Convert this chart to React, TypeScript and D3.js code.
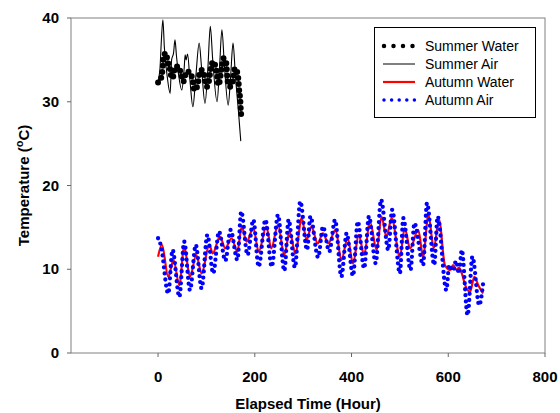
import React, { useEffect, useRef } from 'react';
import * as d3 from 'd3';

// summer run (hours, degC)
const summerWaterHours = [0, 3, 8, 10, 11, 16, 20, 25, 28, 32, 35, 42, 48, 52, 59, 66, 72, 75, 82, 85, 90, 95, 101, 105, 109, 114, 121, 125, 132, 135, 141, 144, 149, 155, 159, 165, 168, 170, 171, 173];
const summerWaterTemps = [32.3, 32.4, 33.3, 34.3, 35.3, 35.8, 34.8, 33.8, 32.8, 33.1, 34.2, 34.2, 33.2, 32.4, 33.6, 33.5, 32.4, 31.4, 32.0, 33.2, 33.8, 33.3, 31.8, 32.4, 34.0, 34.8, 33.6, 32.0, 34.2, 35.2, 34.6, 32.4, 31.8, 32.6, 34.0, 33.2, 31.2, 30.2, 29.1, 28.0];

const summerAirHours = [0, 4, 7, 10, 13, 19, 25, 28, 32, 35, 38, 43, 49, 54, 56, 58, 61, 66, 72, 78, 85, 90, 97, 103, 108, 113, 122, 127, 132, 137, 145, 150, 155, 160, 166, 171];
const summerAirTemps = [32.5, 34.0, 37.5, 39.8, 36.5, 33.0, 31.0, 35.0, 35.8, 37.4, 35.5, 33.0, 31.4, 34.0, 35.6, 35.0, 35.7, 32.5, 29.4, 33.0, 37.0, 34.0, 29.8, 34.0, 39.0, 35.0, 30.0, 34.0, 38.6, 34.5, 29.6, 33.0, 37.0, 33.0, 29.0, 25.3];

// autumn run
const autumnWaterHours = [0, 8, 21, 32, 44, 54, 66, 79, 90, 106, 113, 128, 139, 152, 164, 173, 183, 197, 208, 224, 234, 248, 261, 272, 284, 297, 307, 317, 330, 341, 352, 367, 379, 392, 403, 415, 426, 438, 452, 462, 472, 483, 500, 510, 521, 538, 548, 559, 570, 581, 593, 604, 610, 617, 622, 628, 635, 645, 654, 662, 672];
const autumnWaterTemps = [11.5, 12.9, 9.1, 11.1, 8.1, 12.7, 9.1, 11.7, 9.5, 12.9, 11.9, 13.9, 12.5, 13.7, 12.1, 15.1, 13.3, 14.9, 12.1, 15.1, 12.5, 15.3, 11.7, 14.5, 11.9, 16.1, 13.5, 15.1, 13.1, 14.3, 13.1, 14.7, 11.1, 13.7, 10.7, 14.1, 11.7, 15.7, 12.3, 16.3, 13.9, 16.1, 11.5, 14.9, 12.5, 14.7, 11.5, 16.5, 12.5, 15.9, 10.5, 9.9, 10.5, 9.9, 10.2, 9.5, 8.1, 7.3, 9.1, 8.1, 7.1];

const autumnAirHours = [0, 6, 21, 30, 44, 54, 66, 78, 90, 102, 114, 126, 139, 150, 164, 172, 185, 197, 208, 222, 235, 248, 261, 270, 283, 294, 308, 315, 331, 341, 354, 366, 379, 390, 403, 413, 426, 436, 450, 461, 476, 484, 500, 507, 522, 530, 548, 556, 571, 578, 596, 602, 610, 616, 622, 628, 640, 650, 664, 672];
const autumnAirTemps = [13.7, 12.8, 7.1, 12.3, 6.7, 13.3, 7.5, 12.9, 7.7, 14.1, 9.5, 14.5, 11.0, 14.7, 11.1, 16.9, 11.7, 15.9, 10.3, 15.9, 10.3, 16.5, 9.8, 15.9, 10.2, 18.1, 12.3, 16.3, 11.4, 15.1, 12.1, 15.9, 9.1, 14.3, 9.2, 15.7, 10.1, 16.3, 10.7, 18.3, 12.3, 17.1, 9.5, 16.1, 9.9, 15.5, 10.5, 17.9, 10.5, 16.3, 7.5, 10.5, 9.8, 11.0, 9.5, 12.3, 4.5, 11.5, 5.7, 8.3];

const xTicks = [0, 200, 400, 600, 800];
const yTicks = [0, 10, 20, 30, 40];
const legendLabels = ['Summer Water', 'Summer Air', 'Autumn Water', 'Autumn Air'];

const FONT = 'Arial, "Liberation Sans", sans-serif';

export default function App() {
    const svgRef = useRef<SVGSVGElement>(null);

    useEffect(() => {
        const svg = d3.select(svgRef.current);
        svg.selectAll('*').remove();

        const left = 71, right = 545, top = 18, bottom = 353;

        const x = d3.scaleLinear().domain([-180, 800]).range([left, right]);
        const y = d3.scaleLinear().domain([0, 40]).range([bottom, top]);

        const zip = (xs: number[], ys: number[]) => xs.map((h, i) => [h, ys[i]] as [number, number]);
        const line = d3
            .line<[number, number]>()
            .x((d) => x(d[0]))
            .y((d) => y(d[1]))
            .curve(d3.curveMonotoneX);

        // frame
        svg.append('rect')
            .attr('x', left)
            .attr('y', top)
            .attr('width', right - left)
            .attr('height', bottom - top)
            .attr('fill', 'none')
            .attr('stroke', '#808080')
            .attr('stroke-width', 1);

        // x axis
        const xAxis = svg.append('g').attr('transform', `translate(0,${bottom})`);
        xAxis.selectAll('line')
            .data(xTicks)
            .enter()
            .append('line')
            .attr('x1', (d) => x(d))
            .attr('x2', (d) => x(d))
            .attr('y1', 0)
            .attr('y2', 4)
            .attr('stroke', '#666');
        xAxis.selectAll('text')
            .data(xTicks)
            .enter()
            .append('text')
            .attr('x', (d) => x(d))
            .attr('y', 29)
            .attr('text-anchor', 'middle')
            .attr('font-family', FONT)
            .attr('font-weight', 'bold')
            .attr('font-size', 15)
            .text((d) => d);

        // y axis
        const yAxis = svg.append('g').attr('transform', `translate(${left},0)`);
        yAxis.selectAll('line')
            .data(yTicks)
            .enter()
            .append('line')
            .attr('x1', -4)
            .attr('x2', 0)
            .attr('y1', (d) => y(d))
            .attr('y2', (d) => y(d))
            .attr('stroke', '#666');
        yAxis.selectAll('text')
            .data(yTicks)
            .enter()
            .append('text')
            .attr('x', -12)
            .attr('y', (d) => y(d) + 5)
            .attr('text-anchor', 'end')
            .attr('font-family', FONT)
            .attr('font-weight', 'bold')
            .attr('font-size', 15)
            .text((d) => d);

        // titles
        svg.append('text')
            .attr('x', (left + right) / 2)
            .attr('y', 409)
            .attr('text-anchor', 'middle')
            .attr('font-family', FONT)
            .attr('font-weight', 'bold')
            .attr('font-size', 15)
            .text('Elapsed Time (Hour)');

        const yTitle = svg.append('text')
            .attr('transform', `translate(29,${(top + bottom) / 2}) rotate(-90)`)
            .attr('text-anchor', 'middle')
            .attr('font-family', FONT)
            .attr('font-weight', 'bold')
            .attr('font-size', 15);
        yTitle.append('tspan').text('Temperature (');
        yTitle.append('tspan').attr('font-size', 11).attr('dy', -6).text('o');
        yTitle.append('tspan').attr('dy', 6).text('C)');

        // series
        const plot = svg.append('g');
        plot.append('path')
            .datum(zip(summerWaterHours, summerWaterTemps))
            .attr('d', line)
            .attr('fill', 'none')
            .attr('stroke', '#000')
            .attr('stroke-width', 6)
            .attr('stroke-linecap', 'round')
            .attr('stroke-dasharray', '0 6');
        plot.append('path')
            .datum(zip(summerAirHours, summerAirTemps))
            .attr('d', line)
            .attr('fill', 'none')
            .attr('stroke', '#000')
            .attr('stroke-width', 1.1);
        plot.append('path')
            .datum(zip(autumnWaterHours, autumnWaterTemps))
            .attr('d', line)
            .attr('fill', 'none')
            .attr('stroke', '#ff0000')
            .attr('stroke-width', 2.2);
        plot.append('path')
            .datum(zip(autumnAirHours, autumnAirTemps))
            .attr('d', line)
            .attr('fill', 'none')
            .attr('stroke', '#0000ff')
            .attr('stroke-width', 4.3)
            .attr('stroke-linecap', 'round')
            .attr('stroke-dasharray', '0 6');

        // legend
        const legend = svg.append('g');
        legend.append('rect')
            .attr('x', 374.5)
            .attr('y', 27.5)
            .attr('width', 161)
            .attr('height', 90)
            .attr('fill', '#fff')
            .attr('stroke', '#000')
            .attr('stroke-width', 1);
        const styles = [
            { stroke: '#000', width: 4.5, dash: '0 9.5' },
            { stroke: '#000', width: 1, dash: null },
            { stroke: '#ff0000', width: 2.2, dash: null },
            { stroke: '#0000ff', width: 3.5, dash: '0 7.6' },
        ];
        legendLabels.forEach((label, i) => {
            const cy = 46 + i * 18;
            const s = styles[i];
            legend.append('line')
                .attr('x1', s.dash ? 384 : 383)
                .attr('x2', 415)
                .attr('y1', cy)
                .attr('y2', cy)
                .attr('stroke', s.stroke)
                .attr('stroke-width', s.width)
                .attr('stroke-linecap', s.dash ? 'round' : 'butt')
                .attr('stroke-dasharray', s.dash);
            legend.append('text')
                .attr('x', 425)
                .attr('y', cy + 5)
                .attr('font-family', FONT)
                .attr('font-size', 14)
                .text(label);
        });
    }, []);

    return (
        <svg
            ref={svgRef}
            width={560}
            height={413}
            style={{ position: 'absolute', left: 0, top: 0, background: '#fff' }}
        />
    );
}
